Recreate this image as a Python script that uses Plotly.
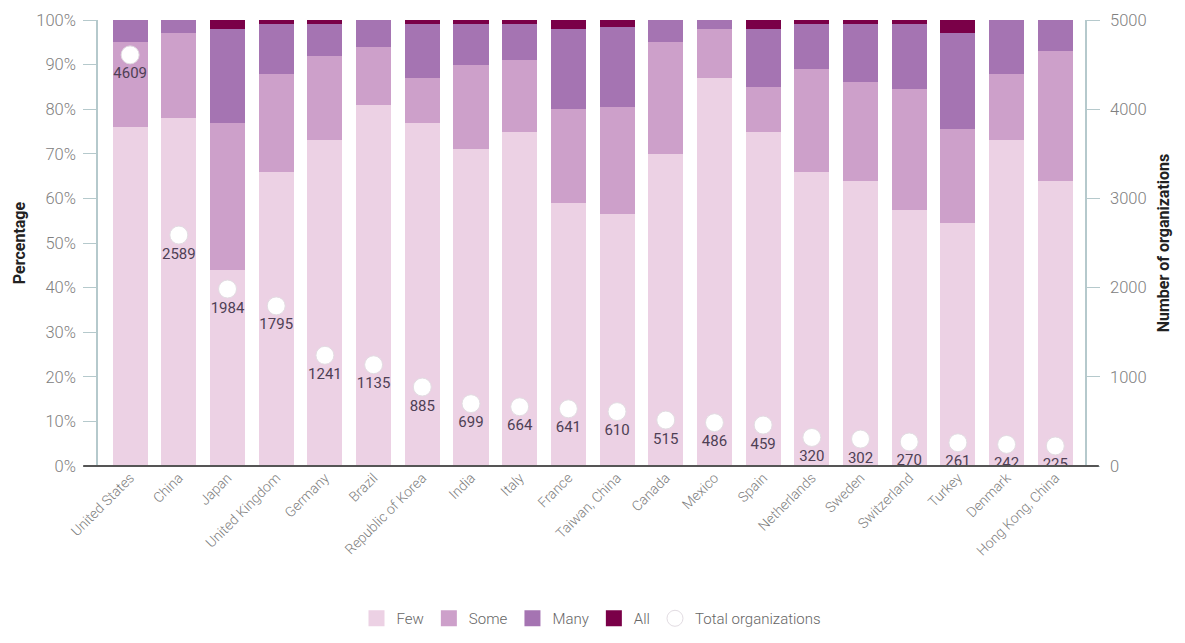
import plotly.graph_objects as go

countries = ["United States", "China", "Japan", "United Kingdom", "Germany", "Brazil",
             "Republic of Korea", "India", "Italy", "France", "Taiwan, China", "Canada",
             "Mexico", "Spain", "Netherlands", "Sweden", "Switzerland", "Turkey",
             "Denmark", "Hong Kong, China"]
few  = [76, 78, 44, 66, 73, 81, 77, 71, 75, 59, 56.5, 70, 87, 75, 66, 64, 57.5, 54.5, 73, 64]
some = [19, 19, 33, 22, 19, 13, 10, 19, 16, 21, 24, 25, 11, 10, 23, 22, 27, 21, 15, 29]
many = [5, 3, 21, 11, 7, 6, 12, 9, 8, 18, 18, 5, 2, 13, 10, 13, 14.5, 21.5, 12, 7]
all_ = [0, 0, 2, 1, 1, 0, 1, 1, 1, 2, 1.5, 0, 0, 2, 1, 1, 1, 3, 0, 0]
totals = [4609, 2589, 1984, 1795, 1241, 1135, 885, 699, 664, 641, 610, 515, 486, 459,
          320, 302, 270, 261, 242, 225]
series_names = ["Few", "Some", "Many", "All"]

colors = {"Few": "#ecd1e4", "Some": "#cda0ca", "Many": "#a574b2", "All": "#7a0048"}
font_family = "Roboto, 'Open Sans', sans-serif"
axis_color = "#b5c9cc"

fig = go.Figure()
for name, vals in zip(series_names, [few, some, many, all_]):
    fig.add_trace(go.Bar(x=countries, y=vals, name=name, marker_color=colors[name],
                         marker_line_width=0, showlegend=False, legendgroup=name))
    # legend swatch (larger square than the default bar swatch)
    fig.add_trace(go.Scatter(x=[None], y=[None], mode="markers", name=name,
                             legendgroup=name,
                             marker=dict(symbol="square", size=16, color=colors[name])))

fig.add_trace(go.Scatter(
    x=countries, y=totals, yaxis="y2", mode="markers+text", name="Total organizations",
    marker=dict(size=18, color="white", line=dict(color="#e2dce2", width=1)),
    text=[str(t) for t in totals], textposition="bottom center",
    textfont=dict(size=15, color="#4f3f55", family=font_family),
))

fig.update_layout(
    width=1169, height=627,
    margin=dict(l=90, r=92, t=12, b=169, autoexpand=False),
    paper_bgcolor="white", plot_bgcolor="white",
    barmode="stack", bargap=0.28,
    font=dict(family=font_family, color="#888"),
    showlegend=True,
    legend=dict(orientation="h", x=0.5, xanchor="center", y=-0.342, yanchor="middle",
                font=dict(size=15, color="#666", weight=300), traceorder="normal"),
    xaxis=dict(range=[-0.66, 19.61], tickangle=-45, showgrid=False, showline=False,
               ticks="", tickfont=dict(size=14, color="#808080", weight=300), zeroline=False,
               automargin=False),
    yaxis=dict(range=[0, 100], dtick=10, ticksuffix="%", showgrid=False, zeroline=False,
               showline=True, linecolor=axis_color, linewidth=1.5, ticks="outside",
               ticklen=13, tickcolor=axis_color, tickwidth=1.2, automargin=False,
               ticklabelstandoff=4,
               tickfont=dict(size=16.5, color="#808080", weight=300),
               title=dict(text="<b>Percentage</b>", font=dict(size=16, color="#222"), standoff=7)),
    yaxis2=dict(range=[0, 5000], dtick=1000, overlaying="y", side="right", showgrid=False,
                zeroline=False, showline=True, linecolor=axis_color, linewidth=1.5,
                ticks="outside", ticklen=13, tickcolor=axis_color, tickwidth=1.2,
                automargin=False, ticklabelstandoff=7,
                tickfont=dict(size=16.5, color="#808080", weight=300),
                title=dict(text="<b>Number of organizations</b>", font=dict(size=16, color="#222"),
                           standoff=12)),
    shapes=[dict(type="line", xref="paper", yref="paper", x0=-0.015, x1=1.014, y0=0, y1=0,
                 line=dict(color="#555", width=2), layer="above")],
)

fig.write_html("out.html")
